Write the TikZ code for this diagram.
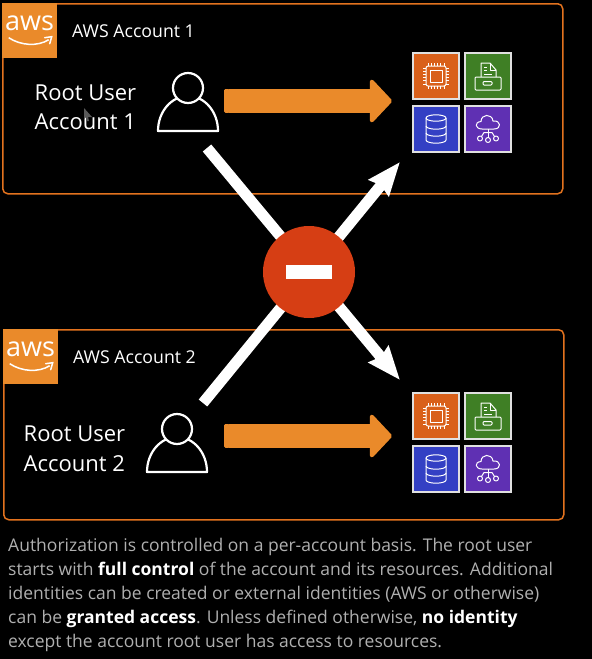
\documentclass[tikz,border=0pt]{standalone}
\usepackage{fontspec}
\setmainfont{Open Sans}
\usepackage{tikz}
\usetikzlibrary{arrows.meta}
\definecolor{awsorange}{HTML}{EA8A2A}
\definecolor{boxline}{HTML}{E2721E}
\definecolor{stopred}{HTML}{D63E14}
\definecolor{tileorange}{HTML}{D9601A}
\definecolor{tilegreen}{HTML}{3F7F25}
\definecolor{tileblue}{HTML}{3340C4}
\definecolor{tilepurple}{HTML}{5F30B3}
\definecolor{bodygray}{HTML}{B0B0B0}
\tikzset{
	acctbox/.style={draw=boxline,line width=1.5pt,rounded corners=5pt,anchor=north west,
		minimum width=560pt,minimum height=190pt,inner sep=0pt},
	logobox/.style={fill=awsorange,anchor=north west,minimum size=55pt,inner sep=0pt},
	logoword/.style={text=white,font=\fontsize{27}{27}\selectfont,inner sep=0pt},
	acctlabel/.style={text=white,font=\fontsize{17.7}{20}\selectfont,anchor=base west,inner sep=0pt},
	rootlabel/.style={text=white,font=\fontsize{22}{29.5}\selectfont,anchor=west,align=left,inner sep=0pt},
	tile/.style={draw=white!88!black,line width=1.5pt,minimum size=46pt,inner sep=0pt},
	iconline/.style={draw=white!85,line width=1pt,line join=round},
	fatarrow/.style={draw=awsorange,line width=24pt,
		{Rectangle[length=6pt,width=24pt,line width=4pt,round]}-{Triangle[length=23pt,width=48pt,line width=4pt,round]}},
	whitearrow/.style={draw=white,line width=11pt,-{Stealth[length=33pt,width=25pt,inset=3pt]}},
	person/.pic={
		\draw[white,line width=2.2pt,line join=round] (-30,43) arc[start angle=180,end angle=0,x radius=30pt,y radius=35pt] -- cycle;
		\draw[white,fill=black,line width=2.2pt] (0,0) circle[radius=15pt];
	},
	smile/.pic={
		\draw[white,line width=1.5pt] (-21,7) .. controls (-9,15) and (8,16) .. (19,9);
		\draw[white,line width=1.5pt,line cap=round] (15,7) -- (22,6) -- (20,13);
	},
	chipicon/.pic={
		\draw[iconline,rounded corners=2pt] (-10,-10) rectangle (10,10);
		\draw[iconline] (-6,-6) rectangle (6,6);
		\foreach \t in {-8,-4.8,...,8.1} {
			\draw[iconline,line width=.7pt] (\t,-10) -- (\t,-13);
			\draw[iconline,line width=.7pt] (\t,10) -- (\t,13);
			\draw[iconline,line width=.7pt] (-10,\t) -- (-13,\t);
			\draw[iconline,line width=.7pt] (10,\t) -- (13,\t);
		}
	},
	fileicon/.pic={
		\draw[iconline] (-7,1) -- (-7,-13) -- (2,-13) -- (8,-6) -- (8,1);
		\draw[iconline] (2,-13) -- (2,-6) -- (8,-6);
		\draw[iconline,line width=.8pt] (-4,-9) -- (-1,-9) (-4,-5.5) -- (-1,-5.5) (-4,-2) -- (4,-2);
		\draw[iconline,rounded corners=1pt] (-13,1) rectangle (13,14);
		\draw[iconline,rounded corners=1pt] (-5,5.5) rectangle (4,9);
	},
	dbicon/.pic={
		\draw[iconline] (0,-11) ellipse[x radius=10pt,y radius=3.2pt];
		\draw[iconline] (-10,-11) -- (-10,11) arc[start angle=180,end angle=360,x radius=10pt,y radius=3.2pt] -- (10,-11);
		\draw[iconline] (-10,-3) arc[start angle=180,end angle=360,x radius=10pt,y radius=3.2pt];
		\draw[iconline] (-10,4) arc[start angle=180,end angle=360,x radius=10pt,y radius=3.2pt];
	},
	cloudicon/.pic={
		\draw[iconline] (-6,0) .. controls (-13,0) and (-14,-7) .. (-7,-7.5)
			.. controls (-7,-15) and (4,-16) .. (5,-8)
			.. controls (13,-9) and (14,0) .. (6,0) -- cycle;
		\draw[iconline] (0,0) -- (0,8.5);
		\draw[iconline] (0,3.5) -- (-4,3.5) -- (-6.5,7.5);
		\draw[iconline] (0,3.5) -- (4,3.5) -- (6.5,7.5);
		\draw[iconline] (0,11) circle[radius=2.5pt];
		\draw[iconline] (-8,9.5) circle[radius=2.5pt];
		\draw[iconline] (8,9.5) circle[radius=2.5pt];
	},
}
\begin{document}
\begin{tikzpicture}[x=1pt,y=-1pt]
	\useasboundingbox (0,0) rectangle (592,659);
	\fill[black] (0,0) rectangle (592,659);
	% the two accounts
	\foreach \n/\bx/\by/\dx/\dy/\dt/\da in {1/2/3/0/0/0/0,2/3/329/-11/341/340/335} {
		\node[acctbox] (acct\n) at (\bx,\by) {};
		\node[logobox] (logo\n) at (\bx,\by) {};
		\node[logoword] (word\n) at ({\bx+27.5},{\by+20}) {aws};
		\pic at (logo\n.center) {smile};
		\node[acctlabel] (name\n) at ({\bx+70},{\by+34}) {AWS Account \n};
		\node[rootlabel] (root\n) at ({34.5+\dx},{107.5+\dy}) {Root User\\Account \n};
		\pic at ({188+\dx},{88+\dy}) {person};
		\coordinate (tail\n) at (224,{101+\da});
		\coordinate (head\n) at (392,{101+\da});
		\draw[fatarrow] (tail\n) -- (head\n);
		\node[tile,fill=tileorange] (chip\n) at (436,{76+\dt}) {};
		\node[tile,fill=tilegreen] (file\n) at (488,{76+\dt}) {};
		\node[tile,fill=tileblue] (db\n) at (436,{129+\dt}) {};
		\node[tile,fill=tilepurple] (cloud\n) at (488,{129+\dt}) {};
		\pic at (chip\n) {chipicon};
		\pic at (file\n) {fileicon};
		\pic at (db\n) {dbicon};
		\pic at (cloud\n) {cloudicon};
	}
	% mouse pointer
	\fill[gray!70!black] (84,108) -- (92,117) -- (88,117) -- (89,121) -- (87,121) -- (86,117) -- (84,119) -- cycle;
	% crossing arrows and stop sign
	\coordinate (fromone) at (207,148);
	\coordinate (toone) at (400,380);
	\coordinate (fromtwo) at (203,403);
	\coordinate (totwo) at (400,162);
	\draw[whitearrow] (fromone) -- (toone);
	\draw[whitearrow] (fromtwo) -- (totwo);
	\node[circle,fill=stopred,minimum size=92pt,inner sep=0pt] (stop) at (309,272) {};
	\node[fill=white,minimum width=46pt,minimum height=14pt,inner sep=0pt] (bar) at (stop) {};
	% text below
	\node[anchor=north west,inner sep=0pt,align=left,text=bodygray,font=\fontsize{17.5}{24}\selectfont] (body) at (8,538) {%
		Authorization is controlled on a per-account basis. The root user\\
		starts with \textcolor{white}{\textbf{full control}} of the account and its resources. Additional\\
		identities can be created or external identities (AWS or otherwise)\\
		can be \textcolor{white}{\textbf{granted access}}. Unless defined otherwise, \textcolor{white}{\textbf{no identity}}\\
		except the account root user has access to resources.};
\end{tikzpicture}
\end{document}
